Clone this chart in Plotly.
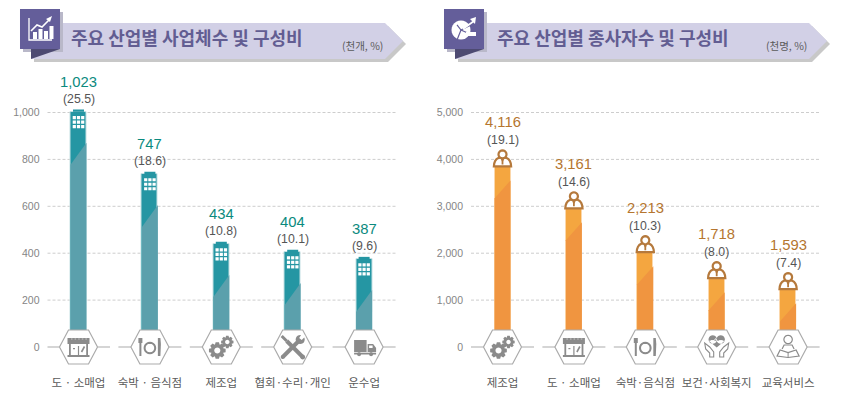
import math
import plotly.graph_objects as go

# ---- data ----
biz_categories = ["도 · 소매업", "숙박 · 음식점", "제조업", "협회·수리·개인", "운수업"]
biz_labels = ["1,023", "747", "434", "404", "387"]
biz_shares = ["(25.5)", "(18.6)", "(10.8)", "(10.1)", "(9.6)"]
biz_heights = [1003, 738, 439, 405, 375]
biz_ticks = [0, 200, 400, 600, 800, 1000]
biz_ticktext = ["0", "200", "400", "600", "800", "1,000"]
biz_icons = ["store", "food", "gear", "tools", "truck"]

emp_categories = ["제조업", "도 · 소매업", "숙박·음식점", "보건·사회복지", "교육서비스"]
emp_labels = ["4,116", "3,161", "2,213", "1,718", "1,593"]
emp_shares = ["(19.1)", "(14.6)", "(10.3)", "(8.0)", "(7.4)"]
emp_heights = [3851, 2957, 2021, 1468, 1234]
emp_ticks = [0, 1000, 2000, 3000, 4000, 5000]
emp_ticktext = ["0", "1,000", "2,000", "3,000", "4,000", "5,000"]
emp_icons = ["gear", "store", "food", "heart", "reader"]

W, H = 841, 404
Y0, YTOP = 347.0, 112.5
PLOT_TOP, PLOT_BOTTOM = 70.0, 371.0
PANEL_L = dict(x0=47.5, x1=396.0, c0=78.5, step=71.4)
PANEL_R = dict(x0=471.0, x1=820.0, c0=502.5, step=71.4)
ICON = "#8b8b8b"
HEX = "#ababab"
shapes, annotations = [], []


def to_path(polys, closed=True):
    out = []
    for p in polys:
        out.append("M" + " L".join(f"{x:.2f},{-y:.2f}" for x, y in p) + (" Z" if closed else ""))
    return " ".join(out)


def circle(cx, cy, r, n=20):
    return [(cx + r * math.cos(2 * math.pi * k / n), cy + r * math.sin(2 * math.pi * k / n)) for k in range(n)]


def rect(x0, y0, x1, y1):
    return [(x0, y0), (x1, y0), (x1, y1), (x0, y1)]


def bar_line(x0, y0, x1, y1, w):
    dx, dy = x1 - x0, y1 - y0
    d = math.hypot(dx, dy)
    nx, ny = -dy / d * w / 2, dx / d * w / 2
    return [(x0 + nx, y0 + ny), (x1 + nx, y1 + ny), (x1 - nx, y1 - ny), (x0 - nx, y0 - ny)]


def gear(cx, cy, r, teeth=8):
    pts = []
    for k in range(teeth):
        a = 2 * math.pi * k / teeth
        s = math.pi / teeth
        pts += [(cx + r * 0.75 * math.cos(a - s * 0.95), cy + r * 0.75 * math.sin(a - s * 0.95)),
                (cx + r * math.cos(a - s * 0.5), cy + r * math.sin(a - s * 0.5)),
                (cx + r * math.cos(a + s * 0.5), cy + r * math.sin(a + s * 0.5)),
                (cx + r * 0.75 * math.cos(a + s * 0.95), cy + r * 0.75 * math.sin(a + s * 0.95))]
    return pts


def add(polys, xa, ya, xref, yref, fill=None, line=None, lw=0, closed=True, layer="above"):
    shapes.append(dict(type="path", xref=xref, yref=yref, xsizemode="pixel", ysizemode="pixel",
                       xanchor=xa, yanchor=ya, path=to_path(polys, closed), layer=layer,
                       fillcolor=fill if fill else "rgba(0,0,0,0)",
                       line=dict(color=line if line else "rgba(0,0,0,0)", width=lw)))


def draw_icon(name, xa, xref, yref):
    def A(polys, fill=ICON, line=None, lw=0, closed=True):
        add(polys, xa, 0, xref, yref, fill, line, lw, closed)
    W_ = "#ffffff"
    if name == "store":
        A([rect(-11, -9, 11, -3)])
        A([rect(-7.5 + 3.6 * k, -8.6, -6 + 3.6 * k, -7.4) for k in range(5)], fill="#c9c9c9")
        A([rect(-9.5, -3, -7.7, 8), rect(7.7, -3, 9.5, 8), rect(-0.6, -1, 0.6, 8)])
        A([rect(-11, 8, 11, 10)])
        A([rect(-5.5, 1, -3.5, 2.2)])
        A([bar_line(3, 5, 6, -0.5, 1.6)])
    elif name == "food":
        A([rect(-11.5, -9, -7.5, -4), rect(-10.5, -4, -8.5, 9)])
        A([circle(0, 1, 5.3)], fill=None, line=ICON, lw=2)
        A([[(8, -9), (10.5, -9), (11, -3), (10.5, 9), (8, 9)]])
    elif name == "gear":
        A([gear(-4, 3.5, 8.5, 8)])
        A([circle(-4, 3.5, 3)], fill=W_)
        A([gear(6, -5, 6.3, 8)])
        A([circle(6, -5, 2.2)], fill=W_)
    elif name == "tools":
        A([bar_line(-10, 10, 6, -6, 4)])
        A([circle(-10, 10, 2)])
        A([circle(7.5, -7.5, 4.5)])
        A([[(6.5, -9), (9, -13), (13, -11), (9, -7)]], fill=W_)
        A([bar_line(-6, -6, 10, 10, 4)])
        A([circle(10, 10, 2.4)])
        A([bar_line(-11, -11, -6, -6, 3)])
    elif name == "truck":
        A([rect(-10, -7, 2.5, 5)])
        A([[(3.5, -3), (9, -3), (12, 1), (12, 5), (3.5, 5)]])
        A([rect(5, -1.5, 8.5, 1)], fill=W_)
        A([rect(-10, 5.7, 12, 7.5)])
        A([circle(-5, 7.2, 2), circle(7, 7.2, 2)])
    elif name == "heart":
        A([circle(-4, -7.5, 4.2), circle(4, -7.5, 4.2), [(-8, -6.3), (8, -6.3), (0, 0.5)]])
        A([[(-6, -6.5), (-2.5, -6.5), (-1, -8.5), (1, -5), (2.5, -6.5), (6, -6.5)]], fill=None, line=W_, lw=0.9, closed=False)
        A([[(-12, -4), (-11, 2), (-7, 6), (-7, 10), (-3, 10), (-3, 5), (-7, 0)]], fill=None, line=ICON, lw=1.1)
        A([[(12, -4), (11, 2), (7, 6), (7, 10), (3, 10), (3, 5), (7, 0)]], fill=None, line=ICON, lw=1.1)
    elif name == "reader":
        A([circle(0, -7.5, 4.2)], fill=None, line=ICON, lw=1.2)
        A([[(-6, 2), (-4, -2), (4, -2), (6, 2)]], fill=None, line=ICON, lw=1.2, closed=False)
        A([[(-11, 9), (-8, 3), (0, 5.5), (8, 3), (11, 9), (0, 10.5)]], fill=None, line=ICON, lw=1.2)
        A([[(0, 5.5), (0, 10.5)]], fill=None, line=ICON, lw=1, closed=False)


def hexagon(xa, xref, yref):
    add([[(-31.5, 0), (-19, 0)], [(19, 0), (31.5, 0)]], xa, 0, xref, yref, line=HEX, lw=1, closed=False)
    add([[(-10, -17), (10, -17), (19, 0), (10, 17), (-10, 17), (-19, 0)]], xa, 0, xref, yref,
        fill="#ffffff", line=HEX, lw=1.2)


def draw_panel(heights, icons, ticks, xref, yref, per_px, kind):
    for v in ticks[1:]:
        shapes.append(dict(type="line", xref=f"{xref} domain", yref=yref, x0=0, x1=1, y0=v, y1=v,
                           layer="below", line=dict(color="#cdcdcd", width=1, dash="3px,2px")))
    for i, h in enumerate(heights):
        top = h / per_px  # bar length in pixels through the axis scale
        if kind == "building":
            add([[(-8, -top + 53), (8, -top + 31), (8, 0), (-8, 0)]], i, 0, xref, yref, fill="#5ba0ac")
            add([rect(-5.5, -top - 2.2, 5.5, -top)], i, 0, xref, yref, fill="#2596a3")
            for r in range(3):
                for c in range(3):
                    cx, cy = -4.2 + 4.2 * c, -top + 5.8 + 4.5 * r
                    add([rect(cx - 1.6, cy - 1.6, cx + 1.6, cy + 1.6)], i, 0, xref, yref, fill="#ffffff")
        else:
            add([[(-8, -top + 32), (8, -top + 14), (8, 0), (-8, 0)]], i, 0, xref, yref, fill="#f09540")
            brown = "#b5793c"
            base = -top
            dome = [(-8.6, base)]
            for a in range(1, 10):
                sign = -1 if a < 5 else 1
                dome.append((sign * 8.6 * abs(math.cos(a * math.pi / 10)) ** 0.7,
                             base - 9 * math.sin(a * math.pi / 10)))
            dome.append((8.6, base))
            add([dome], i, 0, xref, yref, fill="#ffffff", line=brown, lw=2.2)
            add([circle(0, base - 12, 4)], i, 0, xref, yref, fill="#ffffff", line=brown, lw=2.2)
            add([[(-1.6, base - 7.5), (1.6, base - 7.5), (0.9, base - 5), (0.9, base - 2), (-0.9, base - 2), (-0.9, base - 5)]],
                i, 0, xref, yref, fill=brown)
        hexagon(i, xref, yref)
        draw_icon(icons[i], i, xref, yref)


def px_poly(polys, fill, layer="above"):
    for p in polys:
        pts = [(x / W, (H - y) / H) for x, y in p]
        shapes.append(dict(type="path", xref="paper", yref="paper", layer=layer, fillcolor=fill,
                           line=dict(width=0),
                           path="M" + " L".join(f"{x:.5f},{y:.5f}" for x, y in pts) + " Z"))


def px_stroke(pts, color, lw):
    p = [(x / W, (H - y) / H) for x, y in pts]
    shapes.append(dict(type="path", xref="paper", yref="paper", fillcolor="rgba(0,0,0,0)",
                       line=dict(color=color, width=lw),
                       path="M" + " L".join(f"{x:.5f},{y:.5f}" for x, y in p)))


def header(x0, right, title, unit, title_x, unit_x):
    shoulder = right - 18
    rib = [(x0 + 11, 23), (shoulder, 23), (right, 41), (shoulder, 59), (x0 + 11, 59)]
    px_poly([[(x + 3, y + 3) for x, y in rib]], "#c8c8c8")
    px_poly([rib], "#d2d0e6")
    px_poly([[(x0 + 3, 12), (x0 + 43, 12), (x0 + 43, 52), (x0 + 3, 52)]], "#b9b8c9")
    px_poly([[(x0, 9), (x0 + 40, 9), (x0 + 40, 49), (x0, 49)]], "#645e9a")
    px_poly([[(x0 + 11, 49), (x0 + 40, 49), (x0 + 11, 59)]], "#4d4a72")
    annotations.append(dict(xref="paper", yref="paper", x=title_x / W, y=(H - 37.5) / H, xanchor="left", yanchor="middle",
                            showarrow=False, text=f"<b>{title}</b>",
                            font=dict(family="Noto Sans CJK KR", size=18, color="#625d92")))
    annotations.append(dict(xref="paper", yref="paper", x=unit_x / W, y=(H - 46) / H, xanchor="left", yanchor="middle",
                            showarrow=False, text=unit,
                            font=dict(family="Noto Sans CJK KR", size=10.5, color="#5a5a5a")))


def value_labels(xa, ya, labels, shares, heights, color, off_val, off_pct):
    for i, (a, b, h) in enumerate(zip(labels, shares, heights)):
        annotations.append(dict(xref=xa, yref=ya, x=i, y=h, yshift=off_val, yanchor="middle", xanchor="center",
                                showarrow=False, text=a, font=dict(family="Liberation Sans", size=14.8, color=color)))
        annotations.append(dict(xref=xa, yref=ya, x=i, y=h, yshift=off_pct, yanchor="middle", xanchor="center",
                                showarrow=False, text=b, font=dict(family="Liberation Sans", size=12.3, color="#555555")))


fig = go.Figure()
fig.add_trace(go.Bar(x=list(range(5)), y=biz_heights, xaxis="x", yaxis="y", width=16 / 71.4,
                     marker=dict(color="#2596a3", line=dict(color="#c4e0e3", width=1)), showlegend=False))
fig.add_trace(go.Bar(x=list(range(5)), y=emp_heights, xaxis="x2", yaxis="y2", width=16 / 71.4,
                     marker=dict(color="#f4a640", line=dict(color="#fbd7ab", width=1)), showlegend=False))

px_per_left = 1000 / (Y0 - YTOP)
px_per_right = 5000 / (Y0 - YTOP)
draw_panel(biz_heights, biz_icons, biz_ticks, "x", "y", px_per_left, "building")
draw_panel(emp_heights, emp_icons, emp_ticks, "x2", "y2", px_per_right, "person")
value_labels("x", "y", biz_labels, biz_shares, biz_heights, "#0b8a7e", 30, 13)
value_labels("x2", "y2", emp_labels, emp_shares, emp_heights, "#b5762f", 44, 26.5)

header(20, 403, "주요 산업별 사업체수 및 구성비", "(천개, %)", 68.5, 340)
header(444, 827, "주요 산업별 종사자수 및 구성비", "(천명, %)", 494.5, 764)

# header pictograms
px_stroke([(29, 18), (29, 40), (52, 40)], "#ffffff", 1.3)
px_poly([[(33 + 5.5 * k, 39 - hh), (37 + 5.5 * k, 39 - hh), (37 + 5.5 * k, 39), (33 + 5.5 * k, 39)] for k, hh in enumerate([7, 10, 8, 13])], "#ffffff")
px_stroke([(31, 31), (37, 25), (42, 27), (49, 20)], "#ffffff", 1.6)
px_poly([[(46, 19), (52, 16), (50, 22)]], "#ffffff")
px_poly([[(461 + 9.5 * math.cos(a * math.pi / 12), 30 + 9.5 * math.sin(a * math.pi / 12)) for a in range(24)]], "#ffffff")
px_stroke([(461, 30), (471, 25)], "#645e9a", 1.2)
px_stroke([(461, 30), (457, 40)], "#645e9a", 1.2)
px_stroke([(457, 25), (461, 30), (470, 34)], "#645e9a", 1.2)
px_stroke([(463, 29), (474, 21)], "#ffffff", 1.6)
px_poly([[(470, 19), (476, 17), (475, 24)]], "#ffffff")
px_poly([[(466, 32), (476, 32), (476, 36), (466, 36)]], "#ffffff")


def xrange_of(p):
    return [(p["x0"] - p["c0"]) / p["step"], (p["x1"] - p["c0"]) / p["step"]]


def yrange_of(vmax):
    per = vmax / (Y0 - YTOP)
    return [(Y0 - PLOT_BOTTOM) * per, (Y0 - PLOT_TOP) * per]


tickfont = dict(family="Liberation Sans", size=10.5, color="#858585")
catfont = dict(family="Noto Sans CJK KR", size=11.5, color="#5a5a5a")
ydomain = [(H - PLOT_BOTTOM) / H, (H - PLOT_TOP) / H]
common = dict(showgrid=False, zeroline=False, showline=False, ticks="", automargin=False, tickmode="array")

fig.update_layout(
    width=W, height=H, margin=dict(l=0, r=0, t=0, b=0, pad=0), autosize=False,
    paper_bgcolor="#ffffff", plot_bgcolor="rgba(0,0,0,0)", showlegend=False, bargap=0,
    shapes=shapes, annotations=annotations,
    xaxis=dict(domain=[PANEL_L["x0"] / W, PANEL_L["x1"] / W], range=xrange_of(PANEL_L),
               tickvals=list(range(5)), ticktext=biz_categories, tickfont=catfont, tickangle=0,
               ticklabelstandoff=3, anchor="y", **common),
    yaxis=dict(domain=ydomain, range=yrange_of(1000), tickvals=biz_ticks, ticktext=biz_ticktext,
               tickfont=tickfont, ticklabelstandoff=7, anchor="x", **common),
    xaxis2=dict(domain=[PANEL_R["x0"] / W, PANEL_R["x1"] / W], range=xrange_of(PANEL_R),
                tickvals=list(range(5)), ticktext=emp_categories, tickfont=catfont, tickangle=0,
                ticklabelstandoff=3, anchor="y2", **common),
    yaxis2=dict(domain=ydomain, range=yrange_of(5000), tickvals=emp_ticks, ticktext=emp_ticktext,
                tickfont=tickfont, ticklabelstandoff=7, anchor="x2", **common),
)

fig.write_html("out.html", config={"displayModeBar": False},
               post_script="document.body.style.margin='0';document.body.style.overflow='hidden';")
